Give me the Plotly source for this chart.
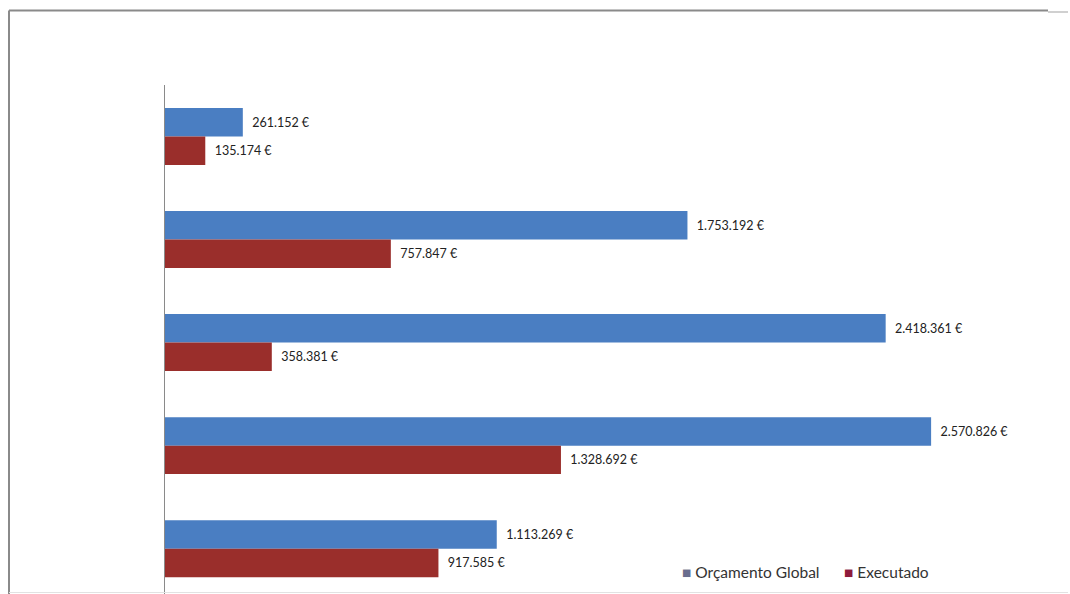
import plotly.graph_objects as go

categories = ["A", "B", "C", "D", "E"]
orcamento_global = [261152, 1753192, 2418361, 2570826, 1113269]
executado = [135174, 757847, 358381, 1328692, 917585]
series_names = ["Orçamento Global", "Executado"]

def fmt(v):
    return "\u00a0\u00a0" + f"{v:,}".replace(",", ".") + "\u00a0€"

W, H = 1070, 594
left, right, top, bottom = 165, 11, 85, 0
pw = W - left - right
ph = H - top - bottom

ypos = list(range(len(categories)))
font_fam = "Liberation Sans Narrow, Lato, Open Sans, sans-serif"

fig = go.Figure()
fig.add_trace(go.Bar(
    y=ypos, x=orcamento_global, orientation="h", name=series_names[0],
    marker=dict(color="#4a7ec2", line=dict(width=0)),
    text=[fmt(v) for v in orcamento_global], textposition="outside",
    textfont=dict(family=font_fam, size=12.5, color="#222222"),
    cliponaxis=False, showlegend=False,
))
fig.add_trace(go.Bar(
    y=ypos, x=executado, orientation="h", name=series_names[1],
    marker=dict(color="#9a2e2b", line=dict(width=0)),
    text=[fmt(v) for v in executado], textposition="outside",
    textfont=dict(family=font_fam, size=12.5, color="#222222"),
    cliponaxis=False, showlegend=False,
))

def px_x(x):
    return (x - left) / pw

def px_y(y):
    return (H - bottom - y) / ph

shapes = [
    dict(type="line", xref="paper", yref="paper", x0=px_x(9), x1=px_x(1048),
         y0=px_y(10.5), y1=px_y(10.5), line=dict(color="#8a8a8a", width=2)),
    dict(type="line", xref="paper", yref="paper", x0=px_x(1048), x1=px_x(1068),
         y0=px_y(12), y1=px_y(12), line=dict(color="#d0d0d0", width=2)),
    dict(type="line", xref="paper", yref="paper", x0=px_x(9), x1=px_x(9),
         y0=px_y(10.5), y1=px_y(594), line=dict(color="#8a8a8a", width=2)),
    dict(type="line", xref="paper", yref="paper", x0=px_x(9), x1=px_x(1068),
         y0=px_y(592.5), y1=px_y(592.5), line=dict(color="#e2e2e2", width=1)),
]

annotations = [
    dict(xref="paper", yref="paper", x=px_x(680), y=px_y(572), xanchor="left", yanchor="middle",
         showarrow=False,
         text='<span style="color:#6a6d8e">■</span> ' + series_names[0],
         font=dict(family=font_fam, size=15.5, color="#333333")),
    dict(xref="paper", yref="paper", x=px_x(842), y=px_y(572), xanchor="left", yanchor="middle",
         showarrow=False,
         text='<span style="color:#8e1b3c">■</span> ' + series_names[1],
         font=dict(family=font_fam, size=15.5, color="#333333")),
]

fig.update_layout(
    width=W, height=H,
    margin=dict(l=left, r=right, t=top, b=bottom, pad=0),
    paper_bgcolor="white", plot_bgcolor="white",
    barmode="group", bargap=0.447, bargroupgap=0,
    xaxis=dict(range=[0, 3000000], showgrid=False, zeroline=False, showticklabels=False,
               showline=False, ticks=""),
    yaxis=dict(range=[4.44, -0.5],
               showgrid=False, zeroline=False, showticklabels=False,
               showline=True, linecolor="#8a8a8a", linewidth=1, ticks=""),
    shapes=shapes, annotations=annotations,
    font=dict(family=font_fam),
)

fig.write_html("out.html")
